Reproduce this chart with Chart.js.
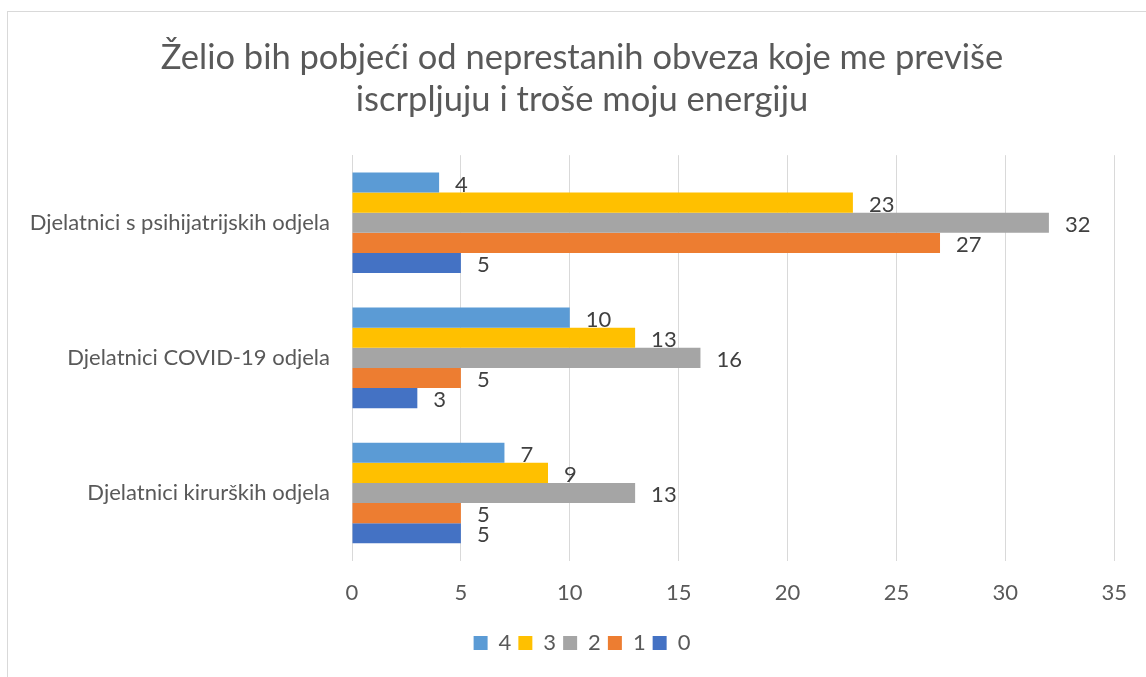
<!DOCTYPE html>
<html>
<head>
<meta charset="utf-8">
<script src="https://cdn.jsdelivr.net/npm/chart.js@4/dist/chart.umd.min.js"></script>
<style>
  html, body { margin: 0; padding: 0; background: #fff; overflow: hidden; }
  #wrap { position: relative; width: 1146px; height: 677px; }
  #frame { position: absolute; left: 7px; top: 11px; width: 1200px; height: 1000px;
           border: 1px solid #D9D9D9; pointer-events: none; }
  canvas { position: absolute; left: 0; top: 0; }
</style>
</head>
<body>
<div id="wrap">
  <canvas id="chart" width="1146" height="677"></canvas>
  <div id="frame"></div>
</div>
<script>
// chart data
const titleLines = ['Želio bih pobjeći od neprestanih obveza koje me previše', 'iscrpljuju i troše moju energiju'];
const categories = ['Djelatnici s psihijatrijskih odjela', 'Djelatnici COVID-19 odjela', 'Djelatnici kirurških odjela'];
const seriesNames = ['4', '3', '2', '1', '0'];
const seriesColors = ['#5B9BD5', '#FFC000', '#A5A5A5', '#ED7D31', '#4472C4'];
const values4 = [4, 10, 7];
const values3 = [23, 13, 9];
const values2 = [32, 16, 13];
const values1 = [27, 5, 5];
const values0 = [5, 3, 5];
const xMax = 35;
const xStep = 5;

const FONT = 'Lato, "Open Sans", sans-serif';
const LABEL_SIZE = 22;
const allValues = [values4, values3, values2, values1, values0];

// draws the value next to each bar end
const barLabels = {
  id: 'barLabels',
  afterLayout(chart) {
    // let the long category label spill left of the padding instead of being clipped
    chart.scales.y.left = 0;
  },
  afterDatasetsDraw(chart) {
    const ctx = chart.ctx;
    ctx.save();
    ctx.font = LABEL_SIZE + 'px ' + FONT;
    ctx.fillStyle = '#404040';
    ctx.textAlign = 'left';
    ctx.textBaseline = 'middle';
    chart.data.datasets.forEach((ds, i) => {
      const meta = chart.getDatasetMeta(i);
      meta.data.forEach((bar, j) => {
        ctx.fillText(String(ds.data[j]), bar.x + 16, bar.y + 2);
      });
    });
    ctx.restore();
  }
};

const datasets = seriesNames.map((name, i) => ({
  label: name,
  data: allValues[i],
  backgroundColor: seriesColors[i],
  borderWidth: 0,
  barPercentage: 1,
  categoryPercentage: 0.744,
}));

new Chart(document.getElementById('chart'), {
  type: 'bar',
  data: { labels: categories, datasets },
  plugins: [barLabels],
  options: {
    responsive: false,
    animation: false,
    indexAxis: 'y',
    layout: { padding: { left: 46, right: 28, top: 0, bottom: 13 } },
    plugins: {
      title: {
        display: true,
        text: titleLines,
        color: '#595959',
        font: { family: FONT, size: 34.5, weight: 'normal', lineHeight: 1.22 },
        padding: { top: 37, bottom: 34 },
      },
      legend: {
        position: 'bottom',
        labels: {
          color: '#595959',
          font: { family: FONT, size: LABEL_SIZE },
          boxWidth: 14,
          boxHeight: 14,
          padding: 7,
        },
      },
      tooltip: { enabled: false },
    },
    scales: {
      x: {
        min: 0,
        max: xMax,
        ticks: { stepSize: xStep, color: '#595959', font: { family: FONT, size: LABEL_SIZE }, padding: 19 },
        grid: { color: '#D9D9D9', lineWidth: 1, drawTicks: false },
        border: { display: false },
      },
      y: {
        ticks: { color: '#595959', font: { family: FONT, size: LABEL_SIZE }, padding: 14 },
        grid: { display: false },
        border: { display: true, color: '#D9D9D9' },
        afterFit(scale) { scale.width = 352 - 46; },
      },
    },
  },
});
</script>
</body>
</html>
